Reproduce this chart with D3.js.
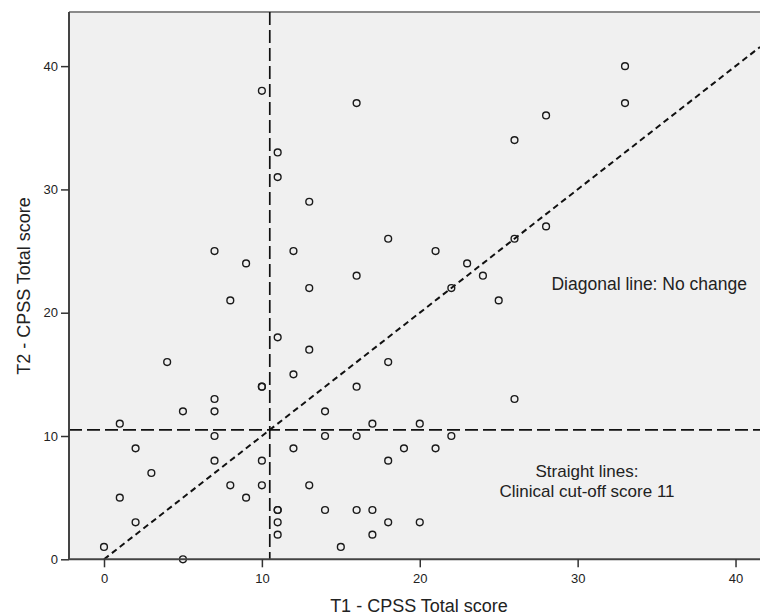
<!DOCTYPE html>
<html>
<head>
<meta charset="utf-8">
<script src="https://cdn.jsdelivr.net/npm/d3@7"></script>
<style>
  html, body { margin: 0; padding: 0; background: #fff; }
  svg { display: block; }
  text { font-family: "Liberation Sans", Arial, sans-serif; fill: #222; }
</style>
</head>
<body>
<svg id="chart" width="760" height="616"></svg>
<script>
// T1 - CPSS Total score
const t1Scores = [0, 1, 1, 2, 2, 3, 4, 5, 5,
  7, 7, 7, 7, 7, 8, 8, 9, 9,
  10, 10, 10, 10, 10,
  11, 11, 11, 11, 11, 11, 11,
  12, 12, 12, 13, 13, 13, 13, 14, 14, 14, 15,
  16, 16, 16, 16, 16, 17, 17, 17, 18, 18, 18, 18, 19,
  20, 20, 21, 21, 22, 22, 23, 24, 25, 26, 26, 26, 28, 28, 33, 33];
// T2 - CPSS Total score
const t2Scores = [1, 11, 5, 9, 3, 7, 16, 12, 0,
  25, 13, 12, 10, 8, 21, 6, 24, 5,
  38, 14, 14, 8, 6,
  33, 31, 18, 4, 4, 3, 2,
  25, 15, 9, 29, 22, 17, 6, 12, 10, 4, 1,
  37, 23, 14, 10, 4, 11, 4, 2, 26, 16, 8, 3, 9,
  11, 3, 25, 9, 22, 10, 24, 23, 21, 34, 26, 13, 36, 27, 40, 37];
const xTicks = [0, 10, 20, 30, 40];
const yTicks = [0, 10, 20, 30, 40];
const cutoff = 10.5;
const xDomain = [-2.217, 41.55];
const yDomain = [0, 44.39];
const xTitle = "T1 - CPSS Total score";
const yTitle = "T2 - CPSS Total score";
const noteDiagonal = "Diagonal line: No change";
const noteStraight = ["Straight lines:", "Clinical cut-off score 11"];

const svg = d3.select("#chart");
const L = 69, R = 760, T = 12, B = 559.3;
const x = d3.scaleLinear().domain(xDomain).range([L, R]);
const y = d3.scaleLinear().domain(yDomain).range([B, T]);

// plot background
svg.append("rect").attr("x", L).attr("y", T).attr("width", R - L).attr("height", B - T)
  .attr("fill", "#f0f0f0");
// top border
svg.append("line").attr("x1", L).attr("x2", R).attr("y1", T).attr("y2", T)
  .attr("stroke", "#8a8a8a").attr("stroke-width", 2);

// clip for reference lines
svg.append("clipPath").attr("id", "clip").append("rect")
  .attr("x", L).attr("y", T).attr("width", R - L).attr("height", B - T);
const g = svg.append("g").attr("clip-path", "url(#clip)");

// cut-off lines
g.append("line").attr("x1", x(cutoff)).attr("x2", x(cutoff)).attr("y1", y(yDomain[1])).attr("y2", y(0))
  .attr("stroke", "#111").attr("stroke-width", 1.7).attr("stroke-dasharray", "13,5");
g.append("line").attr("x1", x(xDomain[0])).attr("x2", x(xDomain[1])).attr("y1", y(cutoff)).attr("y2", y(cutoff))
  .attr("stroke", "#111").attr("stroke-width", 1.7).attr("stroke-dasharray", "13,5");
// diagonal
g.append("line").attr("x1", x(0)).attr("y1", y(0)).attr("x2", x(xDomain[1])).attr("y2", y(xDomain[1]))
  .attr("stroke", "#111").attr("stroke-width", 2).attr("stroke-dasharray", "6,4");

// points
const pts = t1Scores.map((v, i) => [v, t2Scores[i]]);
svg.append("g").selectAll("circle").data(pts).join("circle")
  .attr("cx", d => x(d[0])).attr("cy", d => y(d[1])).attr("r", 3.4)
  .attr("fill", "none").attr("stroke", "#1a1a1a").attr("stroke-width", 1.4);

// axes
const xAxis = svg.append("g").attr("transform", `translate(0,${B})`)
  .call(d3.axisBottom(x).tickValues(xTicks).tickSize(8).tickPadding(6).tickSizeOuter(0));
const yAxis = svg.append("g").attr("transform", `translate(${L},0)`)
  .call(d3.axisLeft(y).tickValues(yTicks).tickSize(8).tickPadding(3).tickSizeOuter(0));
[xAxis, yAxis].forEach(a => {
  a.select(".domain").attr("stroke", "#444").attr("stroke-width", 2);
  a.selectAll(".tick line").attr("stroke", "#333").attr("stroke-width", 1.5);
  a.selectAll(".tick text").attr("font-family", "Liberation Sans, Arial, sans-serif")
    .attr("font-size", 13).attr("fill", "#222");
});
yAxis.select(".domain").attr("d", `M0,${T}V${B}`);
xAxis.select(".domain").attr("d", `M${L},0H${R}`);

// titles
svg.append("text").attr("x", 419).attr("y", 612).attr("text-anchor", "middle")
  .attr("font-size", 18).text(xTitle);
svg.append("text").attr("transform", "translate(30,286) rotate(-90)").attr("text-anchor", "middle")
  .attr("font-size", 18).text(yTitle);

// notes
svg.append("text").attr("x", 747).attr("y", 290).attr("text-anchor", "end")
  .attr("font-size", 17.5).text(noteDiagonal);
svg.append("text").attr("x", 587).attr("y", 477).attr("text-anchor", "middle")
  .attr("font-size", 17).text(noteStraight[0]);
svg.append("text").attr("x", 587).attr("y", 497).attr("text-anchor", "middle")
  .attr("font-size", 17).text(noteStraight[1]);
</script>
</body>
</html>
